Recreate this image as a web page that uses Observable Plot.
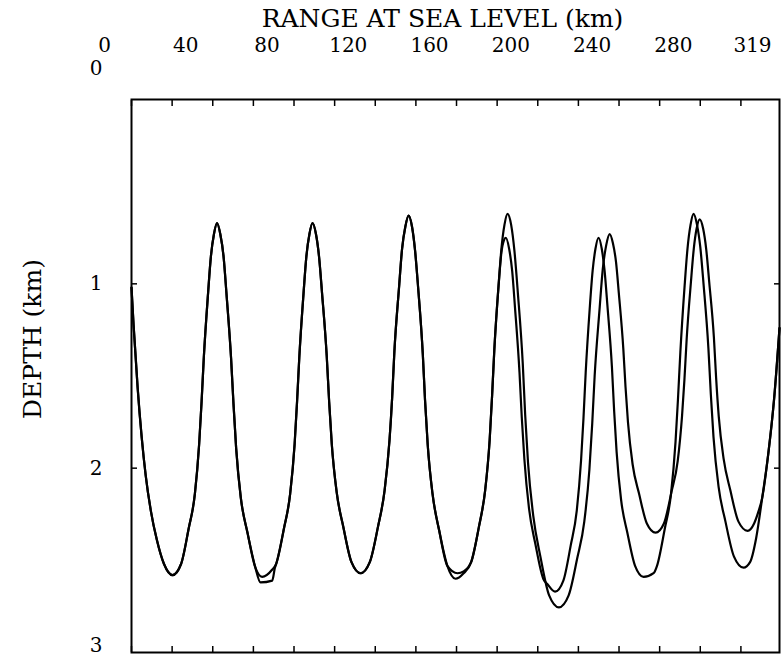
<!DOCTYPE html>
<html>
<head>
<meta charset="utf-8">
<script src="https://cdn.jsdelivr.net/npm/d3@7"></script>
<script src="https://cdn.jsdelivr.net/npm/@observablehq/plot@0.6"></script>
<style>
  html, body { margin: 0; padding: 0; background: #fff; }
</style>
</head>
<body>
<div id="chart"></div>
<script>
// Tick values
const rangeLabels = [0, 40, 80, 120, 160, 200, 240, 280, 319];
const rangeMinorTicks = [0, 20, 40, 60, 80, 100, 120, 140, 160, 180, 200, 220, 240, 260, 280, 300];
const depthLabels = [1, 2];
const depthBottomLabel = [3];
const depthTopLabel = [0];
const depthFrameTicks = [1, 2];

const xTitle = "RANGE AT SEA LEVEL (km)";
const yTitle = "DEPTH (km)";

// Ray 1: [range km, depth km]
const rayA = [
  [0, 1.02], [1.0, 1.22], [3.0, 1.56], [5.0, 1.83], [7.0, 2.04], [9.5, 2.23], [12.5, 2.39], [16.0, 2.52], [20.2, 2.58],
  [24.4, 2.52], [28.1, 2.33], [31.2, 2.14], [33.3, 1.87], [34.5, 1.64], [35.6, 1.40], [37.7, 1.05], [39.1, 0.85], [40.6, 0.73], [42.1, 0.67],
  [43.7, 0.73], [45.3, 0.85], [46.8, 1.06], [49.0, 1.40], [50.2, 1.65], [51.5, 1.89], [53.8, 2.16], [57.1, 2.35], [61.0, 2.54],
  [64.3, 2.59], [69.3, 2.55],
  [71.2, 2.52], [75.0, 2.33], [78.1, 2.14], [80.3, 1.87], [81.5, 1.64], [82.6, 1.40], [84.7, 1.05], [86.1, 0.85], [87.6, 0.73], [89.1, 0.67],
  [90.8, 0.73], [92.3, 0.85], [93.8, 1.05], [96.1, 1.39], [97.3, 1.64], [98.6, 1.87], [101.0, 2.13], [104.3, 2.32], [108.3, 2.51], [112.8, 2.57],
  [117.3, 2.51], [121.3, 2.32], [124.6, 2.12], [127.0, 1.85], [128.3, 1.62], [129.4, 1.37], [131.7, 1.02], [133.2, 0.81], [134.8, 0.69], [136.4, 0.63],
  [138.1, 0.69], [139.6, 0.82], [141.1, 1.02], [143.4, 1.38], [144.5, 1.63], [145.8, 1.87], [148.2, 2.14], [151.5, 2.34], [155.5, 2.53],
  [159.5, 2.60], [163.5, 2.57],
  [167.2, 2.51], [171.0, 2.32], [174.1, 2.12], [176.3, 1.85], [177.5, 1.61], [178.6, 1.36], [180.7, 1.01], [182.1, 0.81], [183.6, 0.68], [185.1, 0.62],
  [186.9, 0.68], [188.5, 0.82], [190.2, 1.05], [192.6, 1.43], [193.8, 1.71], [195.2, 1.97], [197.8, 2.26], [201.3, 2.48], [205.6, 2.69], [210.4, 2.755],
  [215.2, 2.69], [219.4, 2.49], [222.9, 2.29], [225.4, 2.01], [226.8, 1.76], [228.0, 1.50], [230.4, 1.14], [232.0, 0.92], [233.7, 0.79], [235.4, 0.73],
  [237.0, 0.78], [238.5, 0.88], [239.9, 1.05], [242.1, 1.35], [243.2, 1.56], [244.4, 1.75], [246.7, 1.98], [249.9, 2.14], [253.7, 2.30], [258.0, 2.35],
  [262.1, 2.30], [265.8, 2.13], [268.9, 1.96], [271.0, 1.72], [272.2, 1.52], [273.3, 1.30], [275.4, 0.99], [276.8, 0.81], [278.2, 0.70], [279.7, 0.65],
  [281.4, 0.70], [282.9, 0.81], [284.4, 0.99], [286.7, 1.29], [287.8, 1.51], [289.1, 1.72], [291.5, 1.95], [294.8, 2.12], [298.8, 2.29], [303.3, 2.34],
  [306.5, 2.30], [308.5, 2.24], [310.5, 2.16], [313.5, 1.92], [316.3, 1.63], [319, 1.24]
];

// Ray 2: [range km, depth km]
const rayB = [
  [0, 1.02], [1.0, 1.22], [3.0, 1.56], [5.0, 1.83], [7.0, 2.04], [9.5, 2.23], [12.5, 2.39], [16.0, 2.52], [20.2, 2.58],
  [24.4, 2.52], [28.1, 2.33], [31.2, 2.14], [33.3, 1.87], [34.5, 1.64], [35.6, 1.40], [37.7, 1.05], [39.1, 0.85], [40.6, 0.73], [42.1, 0.67],
  [43.7, 0.73], [45.3, 0.85], [46.8, 1.06], [49.0, 1.40], [50.2, 1.65], [51.5, 1.89], [53.8, 2.16], [57.1, 2.35], [61.0, 2.54],
  [63.5, 2.62], [69.3, 2.61], [70.6, 2.54],
  [71.2, 2.52], [75.0, 2.33], [78.1, 2.14], [80.3, 1.87], [81.5, 1.64], [82.6, 1.40], [84.7, 1.05], [86.1, 0.85], [87.6, 0.73], [89.1, 0.67],
  [90.8, 0.73], [92.3, 0.85], [93.8, 1.05], [96.1, 1.39], [97.3, 1.64], [98.6, 1.87], [101.0, 2.13], [104.3, 2.32], [108.3, 2.51], [112.8, 2.57],
  [117.3, 2.51], [121.3, 2.32], [124.6, 2.12], [127.0, 1.85], [128.3, 1.62], [129.4, 1.37], [131.7, 1.02], [133.2, 0.81], [134.8, 0.69], [136.4, 0.63],
  [138.1, 0.69], [139.6, 0.82], [141.1, 1.02], [143.4, 1.38], [144.5, 1.63], [145.8, 1.87], [148.2, 2.14], [151.5, 2.34], [155.5, 2.53],
  [160.5, 2.57], [163.5, 2.56],
  [167.2, 2.51], [171.0, 2.32], [174.1, 2.12], [176.3, 1.85], [177.5, 1.61], [178.6, 1.36], [180.7, 1.01], [182.1, 0.83], [183.3, 0.765], [184.3, 0.75],
  [185.9, 0.81], [187.4, 0.93], [188.8, 1.13], [191.0, 1.48], [192.1, 1.72], [193.4, 1.95], [195.7, 2.22], [198.8, 2.41], [202.7, 2.60], [204.8, 2.63], [208.5, 2.67],
  [212.6, 2.61], [216.2, 2.42], [219.2, 2.23], [221.3, 1.96], [222.5, 1.73], [223.6, 1.48], [225.6, 1.13], [227.0, 0.93], [228.4, 0.81], [229.9, 0.75],
  [231.5, 0.81], [232.9, 0.93], [234.3, 1.12], [236.5, 1.45], [237.6, 1.69], [238.8, 1.91], [241.0, 2.17], [244.1, 2.35], [247.9, 2.53], [252.1, 2.59],
  [257.0, 2.57], [258.7, 2.53], [262.5, 2.33], [265.6, 2.14], [267.8, 1.86], [269.0, 1.63], [270.2, 1.37], [272.3, 1.01], [273.7, 0.81], [275.2, 0.68], [276.7, 0.62],
  [278.4, 0.68], [280.0, 0.80], [281.6, 1.00], [284.0, 1.35], [285.2, 1.60], [286.5, 1.83], [289.0, 2.10], [292.4, 2.29], [296.6, 2.48], [301.3, 2.54],
  [304.5, 2.51], [307.5, 2.38], [310.5, 2.16], [313.5, 1.92], [316.3, 1.63], [319, 1.24]
];

const font = "'DejaVu Serif', serif";
const fmt = d => String(d);

const chart = Plot.plot({
  width: 782,
  height: 658,
  marginLeft: 131,
  marginRight: 3,
  marginTop: 99,
  marginBottom: 6,
  x: { domain: [0, 319] },
  y: { domain: [0, 3], reverse: true },
  style: { fontFamily: font, color: "black", background: "white", overflow: "visible" },
  marks: [
    // inward frame ticks
    Plot.axisX(rangeMinorTicks, { anchor: "top", tickSize: -6, fill: "none", strokeWidth: 1.5 }),
    Plot.axisX(rangeMinorTicks, { anchor: "bottom", tickSize: -6, fill: "none", strokeWidth: 1.5 }),
    Plot.axisY(depthFrameTicks, { anchor: "left", tickSize: -6, fill: "none", strokeWidth: 1.5 }),
    Plot.axisY(depthFrameTicks, { anchor: "right", tickSize: -6, fill: "none", strokeWidth: 1.5 }),
    // tick labels
    Plot.axisX(rangeLabels, { anchor: "top", tickSize: 0, stroke: "none", tickPadding: 48, dx: -27, fontSize: 20, tickFormat: fmt, label: null }),
    Plot.axisY(depthLabels, { anchor: "left", tickSize: 0, stroke: "none", tickPadding: 29, fontSize: 20, tickFormat: fmt, label: null }),
    Plot.axisY(depthBottomLabel, { anchor: "left", tickSize: 0, stroke: "none", tickPadding: 29, dy: -7, fontSize: 20, tickFormat: fmt, label: null }),
    Plot.axisY(depthTopLabel, { anchor: "left", tickSize: 0, stroke: "none", tickPadding: 29, dy: -31, fontSize: 20, tickFormat: fmt, label: null }),
    // axis titles
    Plot.text([xTitle], { frameAnchor: "top", text: d => d, dx: -13, dy: -90, fontSize: 25, fill: "black" }),
    Plot.text([yTitle], { frameAnchor: "left", textAnchor: "middle", text: d => d, rotate: -90, dx: -99, dy: -37, fontSize: 25, fill: "black" }),
    // rays
    Plot.line(rayA, { x: d => d[0], y: d => d[1], curve: "monotone-x", stroke: "black", strokeWidth: 2.2 }),
    Plot.line(rayB, { x: d => d[0], y: d => d[1], curve: "monotone-x", stroke: "black", strokeWidth: 2.2 }),
    Plot.frame({ stroke: "black", strokeWidth: 2 })
  ]
});
document.getElementById("chart").appendChild(chart);
</script>
</body>
</html>
